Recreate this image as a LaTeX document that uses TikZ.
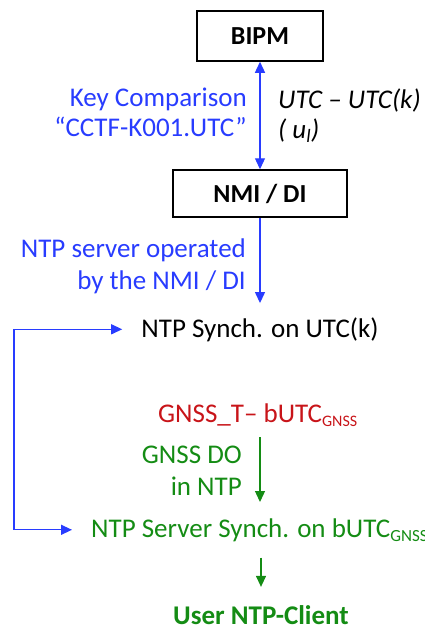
\documentclass[tikz,border=0pt]{standalone}
\usepackage{fontspec}
\setmainfont{Carlito}
\usetikzlibrary{arrows.meta,calc}
\definecolor{cblue}{RGB}{40,60,255}
\definecolor{cred}{RGB}{200,20,25}
\definecolor{cgreen}{RGB}{20,140,20}
\newcommand{\gsub}[2][16]{\raisebox{-4pt}{\fontsize{#1}{#1}\selectfont #2}}
\begin{document}
\begin{tikzpicture}[x=1pt,y=-1pt,
  every node/.style={font=\fontsize{27}{32}\selectfont},
  box/.style={draw=black,line width=1.5pt,font=\fontsize{26}{30}\selectfont\bfseries,inner sep=0pt},
  txt/.style={inner sep=0pt},
  lbl/.style={inner sep=0pt,anchor=base east},
  tip/.style={-{Triangle[length=11pt,width=10pt]}},
  btip/.style={{Triangle[length=11pt,width=10pt]}-{Triangle[length=11pt,width=10pt]}},
  bl/.style={draw=cblue,line width=1.3pt},
  gr/.style={draw=cgreen,line width=1.3pt}]
\useasboundingbox (0,0) rectangle (425,630);
\node[box,minimum width=126pt,minimum height=50pt] (bipm) at (260,36) {BIPM};
\node[box,minimum width=174pt,minimum height=47pt] (nmi) at (260,193.5) {NMI / DI};
\node[lbl,text=cblue] (kc1) at (247,106) {Key Comparison};
\node[lbl,text=cblue] (kc2) at (247,136) {``CCTF-K001.UTC''};
\node[txt,anchor=base west,font=\fontsize{27}{32}\selectfont\itshape] (utc1) at (278,108) {UTC -- UTC(k)};
\node[txt,anchor=base west,font=\fontsize{27}{32}\selectfont\itshape] (utc2) at (278,138) {( u\textsubscript{l})};
\node[lbl,text=cblue] (op1) at (246,257) {NTP server operated};
\node[lbl,text=cblue] (op2) at (246,289) {by the NMI / DI};
\node[txt,anchor=base] (ntpk) at (260,337) {NTP Synch. on UTC(k)};
\node[txt,anchor=base west,text=cred] (gnss) at (158,422) {GNSS\_T– bUTC\gsub{GNSS}};
\node[lbl,text=cgreen] (gdo1) at (242,463) {GNSS DO};
\node[lbl,text=cgreen] (gdo2) at (242,495) {in NTP};
\node[txt,anchor=base west,text=cgreen] (ntps) at (91,537) {NTP Server Synch. on bUTC\gsub[17]{GNSS}};
\node[txt,anchor=base,text=cgreen,font=\fontsize{27}{32}\selectfont\bfseries] (user) at (261,624) {User NTP-Client};
\coordinate (loop) at (14,430);
\coordinate (gtop) at (260,437);
\coordinate (gbot) at (260,502);
\draw[bl,btip] (bipm.south) -- (nmi.north);
\draw[bl,tip,shorten >=14pt] (nmi.south) -- (ntpk.north);
\draw[bl,btip,shorten >=19pt,shorten <=19pt] (ntpk.west) -| (loop) |- (ntps.west);
\draw[gr,tip] (gtop) -- (gbot);
\draw[gr,tip,shorten <=16pt,shorten >=18pt] (ntps.south -| user.north) -- (user.north);
\end{tikzpicture}
\end{document}
